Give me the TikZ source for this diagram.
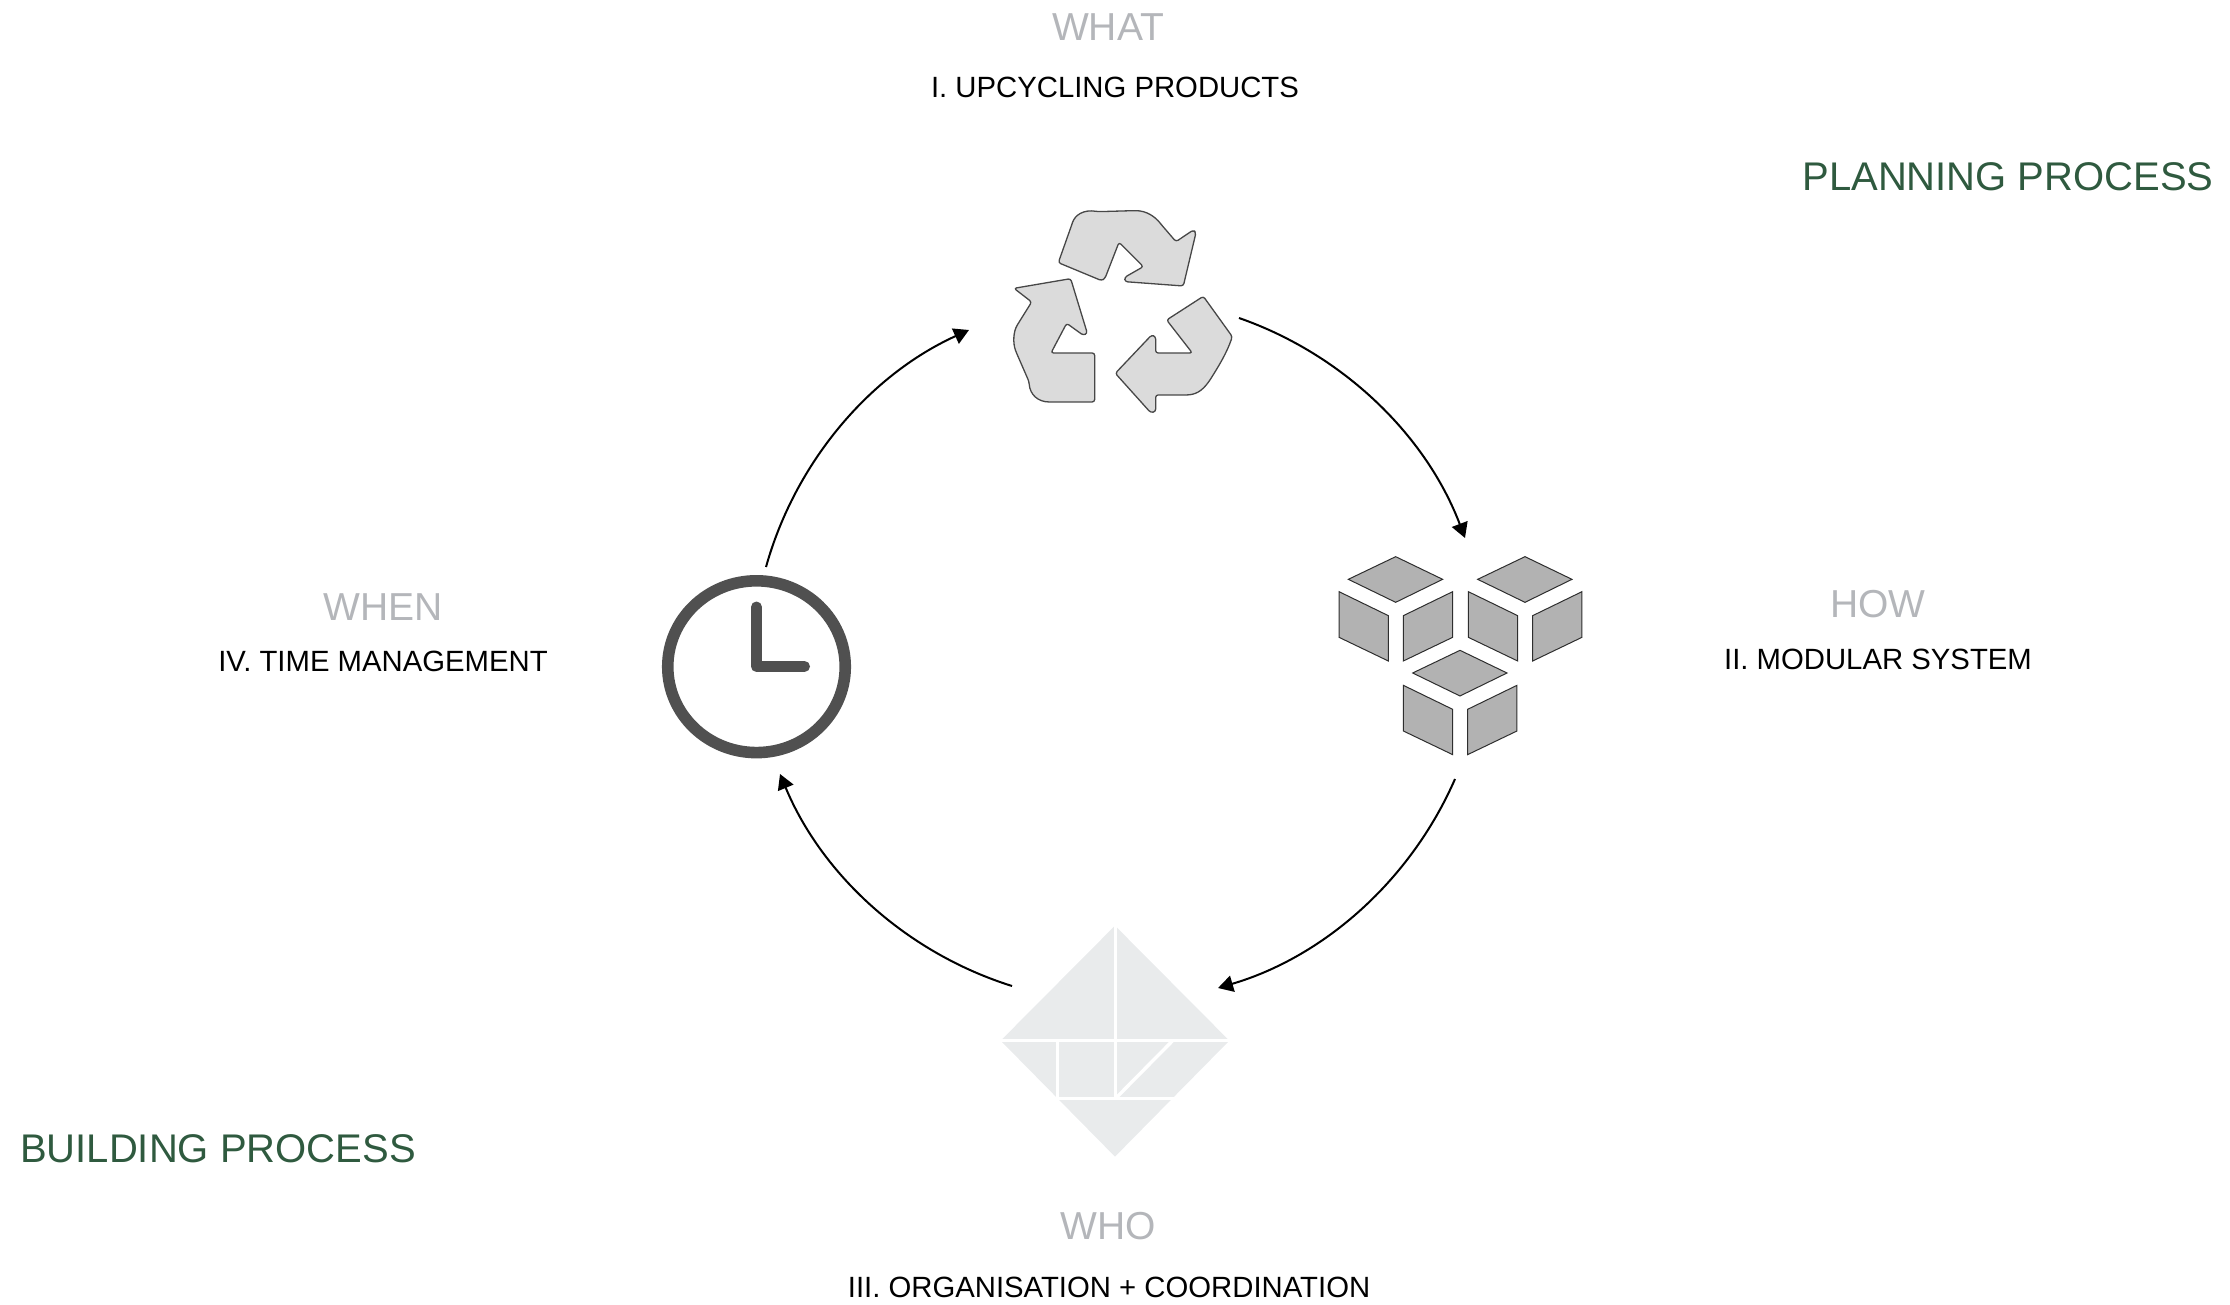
\documentclass[tikz,border=0pt]{standalone}
\usepackage{fontspec}
\setmainfont{Liberation Sans}
\usetikzlibrary{arrows.meta,shapes.geometric}
\definecolor{qgrey}{HTML}{B4B6BA}
\definecolor{qgreen}{HTML}{2F5A3F}
\definecolor{qtang}{HTML}{E9EBEC}
\definecolor{qdark}{HTML}{505050}
\tikzset{
 qlabel/.style={anchor=base,inner sep=0pt,font=\fontsize{29.3}{32}\selectfont,text=black},
 qhead/.style={anchor=base,inner sep=0pt,font=\fontsize{39}{44}\selectfont,text=qgrey},
 qproc/.style={anchor=base,inner sep=0pt,font=\fontsize{40}{44}\selectfont,text=qgreen},
 qflow/.style={line width=2pt,-{Triangle[length=15pt,width=16.5pt]},black},
 qarc/.style={bend left=25,looseness=0.894},
 qrec/.style={fill=black!14,draw=black!72,line width=1.3pt,line join=round,rounded corners=2.5pt},
 qcube/.style={fill=black!30,draw=black!82,line width=1pt,line join=miter},
 qtan/.style={draw=white,line width=3.4pt},
 qclock/.style={draw=qdark,line width=11.6pt},
 qhand/.style={draw=qdark,line width=11pt,line cap=round,line join=round},
}
\begin{document}
\begin{tikzpicture}[x=1pt,y=-1pt]
\useasboundingbox (0,0) rectangle (2230,1305);
% texts
\node[qhead] (what) at (1108,41) {WHAT};
\node[qlabel] (whatl) at (1115,98) {I. UPCYCLING PRODUCTS};
\node[qproc] (plan) at (2008,191) {PLANNING PROCESS};
\node[qproc] (build) at (218,1162) {BUILDING PROCESS};
\node[qhead] (when) at (383,620) {WHEN};
\node[qlabel] (whenl) at (383,671) {IV. TIME MANAGEMENT};
\node[qhead] (how) at (1878,617) {HOW};
\node[qlabel] (howl) at (1878,669) {II. MODULAR SYSTEM};
\node[qhead] (who) at (1108,1239) {WHO};
\node[qlabel] (whol) at (1109,1297) {III. ORGANISATION + COORDINATION};
% recycle icon
\begin{scope}[shift={(980,190)},x=0.3333pt,y=-0.3333pt]
\draw[qrec] (235,218) -- (275,105) .. controls (285,75) and (310,58) .. (355,65) -- (460,62) .. controls (500,62) and (525,80) .. (545,105) -- (588,155) -- (640,120) -- (648,128) -- (610,288) -- (435,275) -- (434,262) -- (490,230) -- (417,157) -- (375,265) -- (365,272) -- cycle;
\draw[qrec] (102,295) -- (272,266) -- (322,430) -- (310,436) -- (260,400) -- (213,489) -- (344,489) -- (344,636) -- (215,636) .. controls (175,636) and (150,615) .. (147,575) -- (110,490) .. controls (98,460) and (100,425) .. (115,400) -- (155,336) -- cycle;
\draw[qrec] (560,390) -- (670,319) -- (757,440) .. controls (740,490) and (715,530) .. (690,570) .. controls (665,605) and (645,615) .. (610,615) -- (527,615) -- (527,665) -- (512,668) -- (406,550) -- (515,435) -- (527,440) -- (527,489) -- (637,489) -- cycle;
\end{scope}
% cubes icon
\begin{scope}[shift={(1320,540)},x=0.3333pt,y=-0.3333pt]
\foreach \dx/\dy in {0/0,388/0,193/281}{
\begin{scope}[shift={(\dx,\dy)}]
\draw[qcube] (227,50) -- (368,118) -- (227,187) -- (85,118) -- cycle;
\draw[qcube] (57,155) -- (205,227) -- (205,363) -- (57,292) -- cycle;
\draw[qcube] (398,155) -- (398,292) -- (250,363) -- (250,227) -- cycle;
\end{scope}}
\end{scope}
% tangram icon
\begin{scope}[shift={(980,910)},x=0.3333pt,y=-0.3333pt]
\fill[qtang] (405,47) -- (748,392) -- (405,740) -- (62,392) -- cycle;
\draw[qtan] (407,40) -- (407,566);
\draw[qtan] (50,392) -- (760,392);
\draw[qtan] (232,392) -- (232,566) -- (590,566);
\draw[qtan] (578,392) -- (410,562);
\end{scope}
% clock icon
\node[ellipse,qclock,minimum width=177.5pt,minimum height=171.8pt,inner sep=0pt] (clock) at (756.5,666.7) {};
\draw[qhand] (756.4,607) -- (756.4,666.4) -- (804.5,666.4);
% connector ends
\coordinate (a1s) at (1239,318);
\coordinate (a1e) at (1465,538);
\coordinate (a2s) at (1455,779);
\coordinate (a2e) at (1218,988);
\coordinate (a3s) at (1012,986);
\coordinate (a3e) at (780,774);
\coordinate (a4s) at (766,567);
\coordinate (a4e) at (969,330);
\draw[qflow] (a1s) to[qarc] (a1e);
\draw[qflow] (a2s) to[qarc] (a2e);
\draw[qflow] (a3s) to[qarc] (a3e);
\draw[qflow] (a4s) to[qarc] (a4e);
\end{tikzpicture}
\end{document}
